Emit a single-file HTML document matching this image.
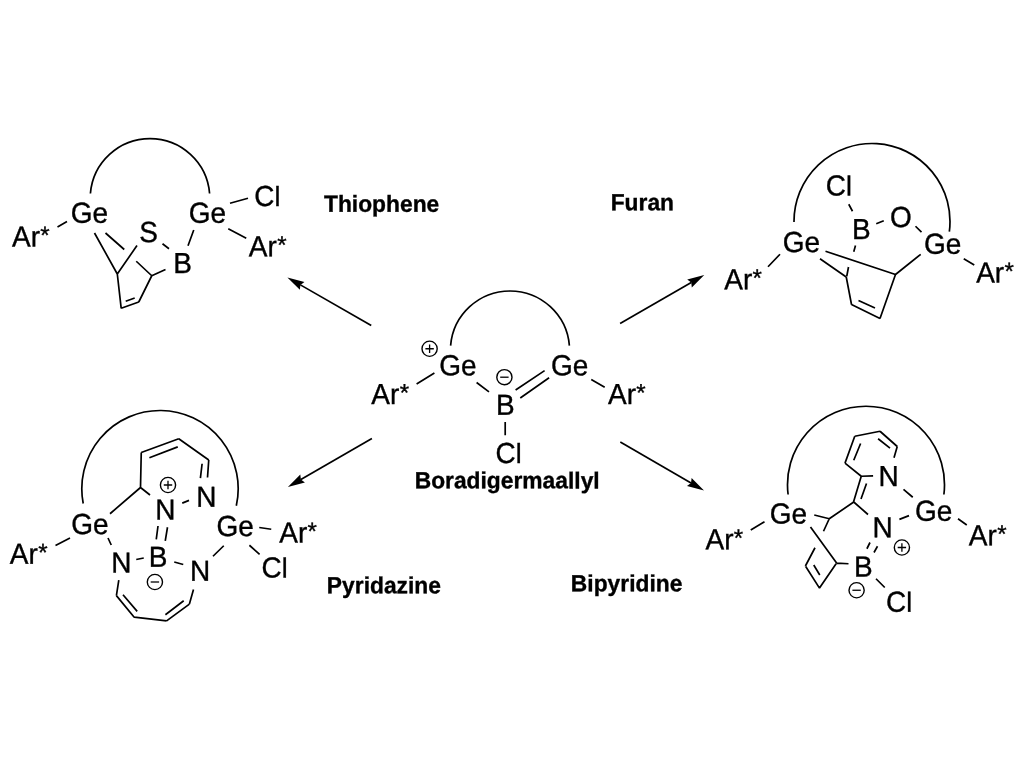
<!DOCTYPE html><html><head><meta charset="utf-8"><style>html,body{margin:0;padding:0;background:#fff;}svg{display:block;}</style></head><body>
<svg width="1024" height="760" viewBox="0 0 1024 760" style="will-change:transform">
<rect width="1024" height="760" fill="#fff"/>
<path d="M57.50 227.00L67.00 221.50M94.50 233.00L117.30 274.00M105.50 233.00L124.25 249.50M137.00 245.50L117.30 274.00M136.25 261.25L151.75 275.75M151.75 275.75L165.50 269.50M162.50 243.75L169.00 248.75M188.00 245.75L193.75 230.00M117.30 274.00L121.20 308.30M121.20 308.30L138.75 302.00M138.75 302.00L151.75 275.75M125.70 301.20L134.70 298.00M230.00 203.25L248.00 198.25M228.25 228.75L246.25 238.25M416.60 384.00L434.40 373.00M476.60 382.50L489.00 391.90M515.60 390.00L544.60 370.60M520.30 398.00L549.10 377.80M591.25 379.40L604.70 387.20M505.20 421.90L505.20 435.20M768.00 266.75L780.00 254.25M848.75 204.25L852.50 211.25M876.25 223.75L883.75 220.75M915.50 226.25L921.50 232.10M963.75 258.75L974.25 265.00M855.50 245.50L853.75 251.75M848.50 267.00L846.75 276.25M825.50 251.25L895.50 274.50M820.00 258.75L846.25 277.00M846.25 277.00L851.50 304.50M851.50 304.50L880.00 318.50M880.00 318.50L895.50 274.50M895.50 274.50L920.70 254.30M858.50 300.50L875.00 308.00M55.50 545.50L70.00 538.00M110.00 513.75L140.50 487.50M140.50 487.50L141.25 452.50M141.25 452.50L178.75 438.75M149.40 457.75L177.75 446.90M178.75 438.75L208.75 460.00M208.75 460.00L207.50 477.50M202.10 463.75L200.40 478.10M140.50 487.50L150.00 495.00M182.25 503.10L189.00 500.40M158.00 526.00L156.25 539.40M167.50 527.25L165.25 540.90M136.25 559.50L143.75 558.00M108.00 538.00L111.25 545.00M174.25 562.00L183.25 564.50M213.00 556.25L223.75 545.75M118.80 580.20L116.40 595.60M116.40 595.60L134.20 617.20M134.20 617.20L166.60 620.90M166.60 620.90L189.40 604.10M189.40 604.10L193.50 589.50M123.00 594.70L137.20 611.40M165.40 614.80L183.70 600.80M259.25 527.50L271.25 529.25M249.40 545.25L259.60 554.40M750.75 530.00L764.50 521.75M861.25 476.25L845.00 463.10M845.00 463.10L854.75 436.25M854.75 436.25L880.00 431.25M880.00 431.25L897.25 446.50M897.25 446.50L894.00 457.75M861.25 476.25L873.10 475.90M853.75 460.25L860.60 443.50M878.10 438.75L890.00 448.10M861.25 476.25L853.50 501.90M866.50 483.50L861.00 499.00M903.50 489.40L912.75 497.25M853.75 502.00L829.25 518.75M829.25 518.75L814.25 515.00M829.25 518.75L823.50 531.25M853.75 502.00L868.00 514.50M899.40 519.40L909.00 515.60M870.00 542.50L866.90 548.75M877.50 546.25L874.00 552.50M810.50 527.00L836.60 563.10M836.60 563.10L848.50 563.75M836.60 563.10L819.50 588.10M819.50 588.10L805.40 566.00M805.40 566.00L815.00 547.75M813.75 565.00L819.75 575.00M958.00 518.75L966.75 525.00M876.00 578.75L884.75 587.50" stroke="#000" stroke-width="1.7" fill="none" stroke-linecap="butt"/>
<path d="M90.41 193.50A59.80 59.80 0 0 1 209.59 193.50M450.61 345.60A59.60 59.60 0 0 1 569.39 345.60M794.00 222.00A78.00 78.00 0 1 1 949.34 231.60M83.21 503.50A78.20 78.20 0 1 1 236.31 505.80M788.11 494.50A78.50 78.50 0 1 1 943.89 494.50" stroke="#000" stroke-width="1.7" fill="none"/>
<line x1="371.25" y1="325.60" x2="300.40" y2="284.88" stroke="#000" stroke-width="1.7"/>
<polygon points="287.40,277.40 304.43,281.88 300.40,284.88 299.85,289.86" fill="#000"/>
<line x1="620.10" y1="323.40" x2="691.25" y2="282.48" stroke="#000" stroke-width="1.7"/>
<polygon points="704.25,275.00 691.81,287.46 691.25,282.48 687.22,279.49" fill="#000"/>
<line x1="371.90" y1="438.40" x2="300.88" y2="479.49" stroke="#000" stroke-width="1.7"/>
<polygon points="287.90,487.00 300.31,474.50 300.88,479.49 304.92,482.47" fill="#000"/>
<line x1="620.30" y1="441.90" x2="691.03" y2="482.97" stroke="#000" stroke-width="1.7"/>
<polygon points="704.00,490.50 686.99,485.94 691.03,482.97 691.61,477.99" fill="#000"/>
<circle cx="429.60" cy="348.75" r="7.60" stroke="#000" stroke-width="1.4" fill="none"/>
<path d="M425.40 348.75H433.80M429.60 344.55V352.95" stroke="#000" stroke-width="1.3"/>
<circle cx="504.40" cy="377.20" r="7.60" stroke="#000" stroke-width="1.4" fill="none"/>
<path d="M500.20 377.20H508.60" stroke="#000" stroke-width="1.3"/>
<circle cx="168.00" cy="485.00" r="7.60" stroke="#000" stroke-width="1.4" fill="none"/>
<path d="M163.80 485.00H172.20M168.00 480.80V489.20" stroke="#000" stroke-width="1.3"/>
<circle cx="154.90" cy="582.00" r="7.60" stroke="#000" stroke-width="1.4" fill="none"/>
<path d="M150.70 582.00H159.10" stroke="#000" stroke-width="1.3"/>
<circle cx="901.90" cy="547.50" r="7.60" stroke="#000" stroke-width="1.4" fill="none"/>
<path d="M897.70 547.50H906.10M901.90 543.30V551.70" stroke="#000" stroke-width="1.3"/>
<circle cx="856.60" cy="590.25" r="7.60" stroke="#000" stroke-width="1.4" fill="none"/>
<path d="M852.40 590.25H860.80" stroke="#000" stroke-width="1.3"/>
<g font-family="Liberation Sans" text-rendering="geometricPrecision" fill="#000" stroke="#000" stroke-width="0.35" style="font-kerning:none"><text transform="matrix(1 0.0005 0 1.035 11.95 246.50)" font-size="28">Ar<tspan font-size="24.08" dx="0.35" dy="-2.79">*</tspan></text><text transform="matrix(1 0.0005 0 1.035 70.84 222.73)" font-size="28">Ge</text><text transform="matrix(1 0.0005 0 1.035 139.23 241.98)" font-size="28">S</text><text transform="matrix(1 0.0005 0 1.035 173.20 273.00)" font-size="28">B</text><text transform="matrix(1 0.0005 0 1.035 188.84 222.73)" font-size="28">Ge</text><text transform="matrix(1 0.0005 0 1.035 254.33 206.00)" font-size="28">C<tspan font-size="26.60">l</tspan></text><text transform="matrix(1 0.0005 0 1.035 248.85 256.25)" font-size="28">Ar<tspan font-size="24.08" dx="0.35" dy="-2.79">*</tspan></text><text transform="matrix(1 0.0005 0 1.035 371.35 404.00)" font-size="28">Ar<tspan font-size="24.08" dx="0.35" dy="-2.79">*</tspan></text><text transform="matrix(1 0.0005 0 1.035 439.34 375.33)" font-size="28">Ge</text><text transform="matrix(1 0.0005 0 1.035 495.90 414.80)" font-size="28">B</text><text transform="matrix(1 0.0005 0 1.035 551.09 375.13)" font-size="28">Ge</text><text transform="matrix(1 0.0005 0 1.035 607.95 404.00)" font-size="28">Ar<tspan font-size="24.08" dx="0.35" dy="-2.79">*</tspan></text><text transform="matrix(1 0.0005 0 1.035 495.48 463.10)" font-size="28">C<tspan font-size="26.60">l</tspan></text><text transform="matrix(1 0.0005 0 1.035 724.20 289.25)" font-size="28">Ar<tspan font-size="24.08" dx="0.35" dy="-2.79">*</tspan></text><text transform="matrix(1 0.0005 0 1.035 782.69 251.98)" font-size="28">Ge</text><text transform="matrix(1 0.0005 0 1.035 825.83 195.50)" font-size="28">C<tspan font-size="26.60">l</tspan></text><text transform="matrix(1 0.0005 0 1.035 852.10 238.90)" font-size="28">B</text><text transform="matrix(1 0.0005 0 1.035 890.07 227.08)" font-size="28">O</text><text transform="matrix(1 0.0005 0 1.035 924.09 253.73)" font-size="28">Ge</text><text transform="matrix(1 0.0005 0 1.035 976.15 282.50)" font-size="28">Ar<tspan font-size="24.08" dx="0.35" dy="-2.79">*</tspan></text><text transform="matrix(1 0.0005 0 1.035 9.85 563.75)" font-size="28">Ar<tspan font-size="24.08" dx="0.35" dy="-2.79">*</tspan></text><text transform="matrix(1 0.0005 0 1.035 71.24 533.88)" font-size="28">Ge</text><text transform="matrix(1 0.0005 0 1.035 155.25 519.50)" font-size="28">N</text><text transform="matrix(1 0.0005 0 1.035 196.35 506.85)" font-size="28">N</text><text transform="matrix(1 0.0005 0 1.035 111.20 572.50)" font-size="28">N</text><text transform="matrix(1 0.0005 0 1.035 148.70 566.85)" font-size="28">B</text><text transform="matrix(1 0.0005 0 1.035 190.10 580.75)" font-size="28">N</text><text transform="matrix(1 0.0005 0 1.035 216.49 536.08)" font-size="28">Ge</text><text transform="matrix(1 0.0005 0 1.035 279.20 542.50)" font-size="28">Ar<tspan font-size="24.08" dx="0.35" dy="-2.79">*</tspan></text><text transform="matrix(1 0.0005 0 1.035 261.58 577.50)" font-size="28">C<tspan font-size="26.60">l</tspan></text><text transform="matrix(1 0.0005 0 1.035 705.45 549.25)" font-size="28">Ar<tspan font-size="24.08" dx="0.35" dy="-2.79">*</tspan></text><text transform="matrix(1 0.0005 0 1.035 769.84 523.43)" font-size="28">Ge</text><text transform="matrix(1 0.0005 0 1.035 878.60 486.00)" font-size="28">N</text><text transform="matrix(1 0.0005 0 1.035 872.60 537.15)" font-size="28">N</text><text transform="matrix(1 0.0005 0 1.035 915.09 520.73)" font-size="28">Ge</text><text transform="matrix(1 0.0005 0 1.035 968.80 545.25)" font-size="28">Ar<tspan font-size="24.08" dx="0.35" dy="-2.79">*</tspan></text><text transform="matrix(1 0.0005 0 1.035 854.10 576.60)" font-size="28">B</text><text transform="matrix(1 0.0005 0 1.035 886.08 611.75)" font-size="28">C<tspan font-size="26.60">l</tspan></text><text transform="matrix(1 0.0005 0 1.020 323.99 211.80)" font-weight="bold" font-size="22.8">Thiophene</text><text transform="matrix(1 0.0005 0 1.020 414.67 488.30)" font-weight="bold" font-size="22.8">Boradigermaallyl</text><text transform="matrix(1 0.0005 0 1.020 610.67 210.20)" font-weight="bold" font-size="22.8">Furan</text><text transform="matrix(1 0.0005 0 1.020 326.87 593.20)" font-weight="bold" font-size="22.8">Pyridazine</text><text transform="matrix(1 0.0005 0 1.020 570.87 591.30)" font-weight="bold" font-size="22.8">Bipyridine</text></g>
</svg></body></html>
